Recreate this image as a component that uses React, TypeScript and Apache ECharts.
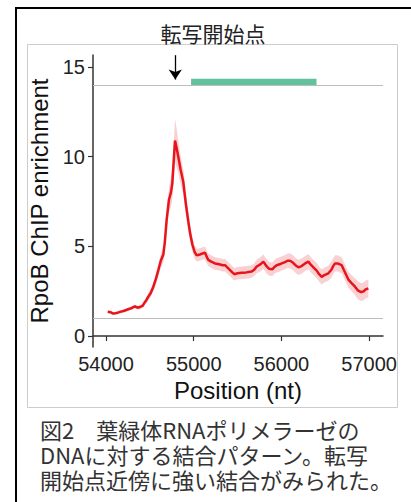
import React, { useEffect, useRef } from "react";
import * as echarts from "echarts";

const positions = [
  54020, 54050, 54083, 54120, 54160, 54200, 54230, 54270, 54300, 54330, 54360, 54388, 54420, 54437,
  54460, 54483, 54510, 54540, 54570, 54597, 54625, 54654, 54670, 54692, 54718, 54740, 54756, 54770,
  54787, 54805, 54824, 54850, 54881, 54910, 54938, 54960, 54985, 55010, 55034, 55070, 55100, 55129,
  55150, 55166, 55200, 55243, 55290, 55330, 55357, 55400, 55440, 55463, 55500, 55547, 55600, 55661,
  55690, 55718, 55760, 55794, 55815, 55832, 55860, 55896, 55920, 55946, 55980, 56003, 56041, 56070,
  56098, 56130, 56160, 56193, 56230, 56270, 56307, 56340, 56370, 56402, 56430, 56459, 56490, 56535,
  56570, 56590, 56611, 56640, 56687, 56720, 56763, 56800, 56839, 56870, 56908, 56940, 56960, 56991,
];
const enrichment = [
  1.35, 1.33, 1.25, 1.28, 1.35, 1.4, 1.45, 1.52, 1.58, 1.65, 1.58, 1.62, 1.7, 1.85,
  2.0, 2.2, 2.4, 2.75, 3.2, 3.68, 4.2, 4.55, 5.2, 6.5, 7.6, 8.0, 8.5, 9.6,
  10.9, 10.5, 10.0, 9.3, 8.6, 7.4, 6.4, 5.7, 5.1, 4.7, 4.5, 4.55, 4.6, 4.65,
  4.4, 4.25, 4.15, 4.05, 4.0, 3.95, 3.95, 3.75, 3.55, 3.45, 3.5, 3.53, 3.55, 3.6,
  3.7, 3.88, 4.0, 4.15, 4.0, 3.88, 3.75, 3.72, 3.85, 3.95, 4.0, 4.05, 4.12, 4.2,
  4.2, 4.1, 3.95, 3.83, 3.9, 4.05, 4.15, 3.95, 3.8, 3.65, 3.45, 3.3, 3.4, 3.5,
  3.7, 3.9, 4.05, 4.05, 3.95, 3.6, 3.15, 2.95, 2.75, 2.55, 2.45, 2.5, 2.6, 2.65,
];
const spread = [
  0.08, 0.08, 0.08, 0.08, 0.08, 0.08, 0.08, 0.1, 0.1, 0.1, 0.1, 0.12, 0.12, 0.15,
  0.18, 0.2, 0.22, 0.25, 0.3, 0.35, 0.4, 0.45, 0.5, 0.6, 0.7, 0.8, 0.9, 1.0,
  1.2, 1.1, 0.9, 0.8, 0.7, 0.6, 0.5, 0.45, 0.4, 0.38, 0.35, 0.35, 0.35, 0.35,
  0.35, 0.35, 0.35, 0.35, 0.35, 0.35, 0.35, 0.35, 0.35, 0.35, 0.35, 0.35, 0.35, 0.35,
  0.35, 0.38, 0.4, 0.4, 0.4, 0.4, 0.38, 0.38, 0.38, 0.4, 0.4, 0.4, 0.4, 0.4,
  0.42, 0.42, 0.42, 0.42, 0.42, 0.42, 0.42, 0.42, 0.42, 0.42, 0.42, 0.42, 0.42, 0.42,
  0.45, 0.45, 0.45, 0.45, 0.45, 0.45, 0.45, 0.45, 0.48, 0.5, 0.5, 0.5, 0.5, 0.5,
];
const xTicks = [54000, 55000, 56000, 57000];
const yTicks = [0, 5, 10, 15];
const refLines = [1, 14];
const geneSpan = [54970, 56400];
const geneBand = [14, 14.35];
const tssPosition = 54790;
const arrowRange = [15.66, 14.3];
const titleText = "転写開始点";
const xName = "Position (nt)";
const yName = "RpoB ChIP enrichment";
const captionLines = [
  "図2　葉緑体RNAポリメラーゼの",
  "DNAに対する結合パターン。転写",
  "開始点近傍に強い結合がみられた。",
];

export default function App() {
  const ref = useRef<HTMLDivElement>(null);
  useEffect(() => {
    if (!ref.current) return;
    const chart = echarts.init(ref.current, undefined, { renderer: "svg" });
    const meanData = positions.map((p, i) => [p, enrichment[i]]);
    const axisColor = "#333";
    const font = "Liberation Sans, Arial, sans-serif";
    chart.setOption({
      animation: false,
      grid: { left: 93, right: 28, top: 55, bottom: 155 },
      xAxis: {
        type: "value",
        min: 53852,
        max: 57158,
        splitLine: { show: false },
        axisLine: { show: true, lineStyle: { color: axisColor, width: 1.5 } },
        axisTick: { show: true, length: 5, lineStyle: { color: axisColor, width: 1.2 }, customValues: xTicks },
        axisLabel: {
          customValues: xTicks,
          formatter: (v: number) => String(v),
          color: "#222",
          fontSize: 20,
          fontFamily: font,
          margin: 7,
        },
        name: xName,
        nameLocation: "middle",
        nameGap: 26,
        nameTextStyle: { color: "#111", fontSize: 24, fontFamily: font },
      },
      yAxis: {
        type: "value",
        min: -0.61,
        max: 15.67,
        splitLine: { show: false },
        axisLine: { show: true, lineStyle: { color: axisColor, width: 1.5 } },
        axisTick: { show: true, length: 5, lineStyle: { color: axisColor, width: 1.2 }, customValues: yTicks },
        axisLabel: { customValues: yTicks, color: "#222", fontSize: 20, fontFamily: font, margin: 8 },
        name: yName,
        nameLocation: "middle",
        nameGap: 36,
        nameRotate: 90,
        nameTextStyle: { color: "#111", fontSize: 24, fontFamily: font },
      },
      graphic: [
        { type: "rect", shape: { x: 15, y: 7, width: 2, height: 495 }, style: { fill: "#000" } },
        { type: "rect", shape: { x: 15, y: 7, width: 396, height: 2 }, style: { fill: "#000" } },
        { type: "rect", shape: { x: 27.5, y: 44.5, width: 370, height: 363 }, style: { fill: "none", stroke: "#cccccc", lineWidth: 1 } },
        {
          type: "text",
          x: 213,
          y: 33,
          style: { text: titleText, font: "21px 'Noto Sans CJK JP'", fill: "#222", align: "center", verticalAlign: "middle" },
        },
        {
          type: "text",
          x: 40,
          y: 416,
          style: {
            text: captionLines.join("\n"),
            font: "22px 'Noto Sans CJK JP'",
            lineHeight: 25,
            fill: "#333",
            align: "left",
            verticalAlign: "top",
          },
        },
      ],
      series: [
        {
          type: "custom",
          data: [0],
          silent: true,
          renderItem: (params: any, api: any) => {
            const upperPts = positions.map((p, i) => api.coord([p, enrichment[i] + spread[i]]));
            const lowerPts = positions.map((p, i) => api.coord([p, enrichment[i] - spread[i]])).reverse();
            return {
              type: "polygon",
              shape: { points: upperPts.concat(lowerPts) },
              style: { fill: "rgba(227,26,28,0.2)", stroke: "none" },
            };
          },
        },
        {
          type: "line",
          data: meanData,
          symbol: "none",
          clip: false,
          lineStyle: { color: "#e8141c", width: 2.5 },
          markArea: {
            silent: true,
            itemStyle: { color: "#62c29e", opacity: 1 },
            data: [[{ coord: [geneSpan[0], geneBand[0]] }, { coord: [geneSpan[1], geneBand[1]] }]],
          },
          markLine: {
            silent: true,
            symbol: ["none", "none"],
            label: { show: false },
            lineStyle: { color: "#bdbdbd", width: 1, type: "solid" },
            data: [
              ...refLines.map((v) => ({ yAxis: v, lineStyle: { color: "#bdbdbd", width: 1, type: "solid" } })),
              [
                { coord: [tssPosition, arrowRange[0]], symbol: "none", lineStyle: { color: "#000", width: 1.3, type: "solid" } },
                { coord: [tssPosition, arrowRange[1]], symbol: "arrow", symbolSize: [10, 10] },
              ],
            ],
          },
        },
      ],
    });
    return () => chart.dispose();
  }, []);
  return <div ref={ref} style={{ position: "fixed", left: 0, top: 0, width: 411, height: 502, background: "#fff" }} />;
}
